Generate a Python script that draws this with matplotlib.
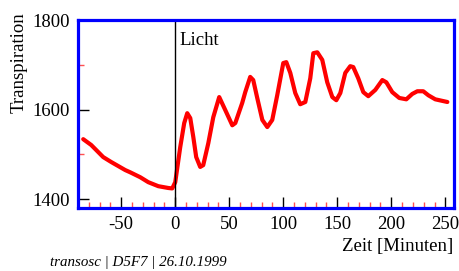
import matplotlib
matplotlib.use('Agg')
import matplotlib.pyplot as plt
import numpy as np
from matplotlib.ticker import MultipleLocator

plt.rcParams['font.family'] = ['Liberation Serif', 'DejaVu Serif']

# data: time in minutes, transpiration
zeit = [-85.2, -77.8, -66.7, -59.3, -46.3, -41.7, -32.4, -25.0, -15.7, -6.5, -2.8, 0,
        4.6, 8.3, 11.1, 13.9, 16.7, 19.4, 23.1, 25.9, 30.6, 35.2, 40.7, 46.3, 52.8,
        55.6, 62.0, 64.8, 69.4, 72.2, 75.9, 80.6, 85.2, 89.8, 94.4, 100, 102.8,
        106.5, 111.1, 115.7, 120.4, 125, 127.8, 131.5, 136.1, 140.7, 145.4, 149.1,
        152.8, 157.4, 162, 164.8, 169.4, 174.1, 178.7, 185.2, 191.7, 195.4, 200.9,
        207.4, 213.9, 219.4, 224.1, 229.6, 234.3, 240.7, 251.9]
transp = [1534, 1521, 1494, 1483, 1465, 1460, 1449, 1438, 1429, 1425, 1424, 1438,
          1516, 1570, 1592, 1581, 1539, 1494, 1472, 1476, 1525, 1583, 1628, 1599, 1565,
          1570, 1615, 1639, 1673, 1666, 1626, 1577, 1561, 1577, 1632, 1704, 1706,
          1682, 1637, 1612, 1617, 1670, 1726, 1728, 1711, 1661, 1628, 1621,
          1637, 1682, 1697, 1695, 1670, 1639, 1630, 1644, 1666, 1661, 1639,
          1626, 1623, 1635, 1641, 1641, 1632, 1623, 1617]

xmajor = [-50, 0, 50, 100, 150, 200, 250]
ymajor = [1400, 1600, 1800]

fig = plt.figure(figsize=(4.59, 2.71), dpi=100)
ax = fig.add_axes([0.170, 0.232, 0.819, 0.694])

ax.plot(zeit, transp, color='red', lw=3.0, solid_capstyle='round', solid_joinstyle='round')
ax.axvline(0, color='black', lw=1.0)
ax.text(4, 1755, 'Licht', fontsize=13.5, va='center', ha='left')

ax.set_xlim(-90, 258)
ax.set_ylim(1380, 1800)
ax.set_xticks(xmajor)
ax.set_xticklabels(['-50', '0', '50', '100', '150', '200', '250'])
ax.set_yticks(ymajor)
ax.xaxis.set_minor_locator(MultipleLocator(10))
ax.yaxis.set_minor_locator(MultipleLocator(100))

ax.tick_params(which='major', direction='in', length=8, width=1, color='black',
               labelsize=13.5, pad=6, top=False, right=False)
ax.tick_params(which='minor', direction='in', length=4.5, width=1, color='#ff5050',
               top=False, right=False)
ax.tick_params(axis='y', which='major', pad=6)

for s in ax.spines.values():
    s.set_color('blue')
    s.set_linewidth(2.3)

fig.text(0.041, 0.768, 'Transpiration', rotation=90, fontsize=13.5, ha='center', va='center')
fig.text(0.988, 0.089, 'Zeit [Minuten]', fontsize=13.5, ha='right', va='center')
fig.text(0.109, 0.030, 'transosc | D5F7 | 26.10.1999', fontsize=10.8, style='italic',
         ha='left', va='center')

fig.savefig('out.png', dpi=100)
